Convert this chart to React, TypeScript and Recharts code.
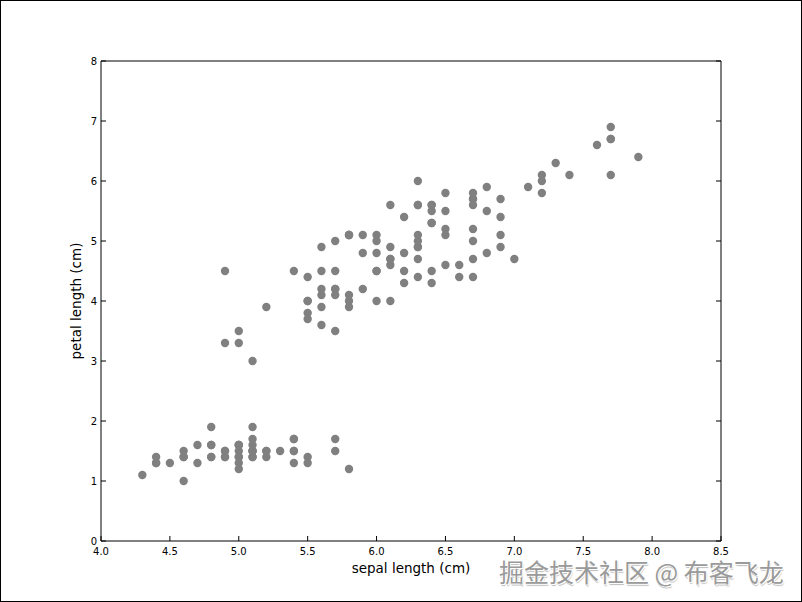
import { Scatter, ScatterChart, XAxis, YAxis } from "recharts";

// iris: sepal length vs petal length (setosa, versicolor, virginica)
const sepalLength = [
  5.1, 4.9, 4.7, 4.6, 5.0, 5.4, 4.6, 5.0, 4.4, 4.9, 5.4, 4.8, 4.8, 4.3, 5.8, 5.7, 5.4, 5.1, 5.7, 5.1,
  5.4, 5.1, 4.6, 5.1, 4.8, 5.0, 5.0, 5.2, 5.2, 4.7, 4.8, 5.4, 5.2, 5.5, 4.9, 5.0, 5.5, 4.9, 4.4, 5.1,
  5.0, 4.5, 4.4, 5.0, 5.1, 4.8, 5.1, 4.6, 5.3, 5.0,
  7.0, 6.4, 6.9, 5.5, 6.5, 5.7, 6.3, 4.9, 6.6, 5.2, 5.0, 5.9, 6.0, 6.1, 5.6, 6.7, 5.6, 5.8, 6.2, 5.6,
  5.9, 6.1, 6.3, 6.1, 6.4, 6.6, 6.8, 6.7, 6.0, 5.7, 5.5, 5.5, 5.8, 6.0, 5.4, 6.0, 6.7, 6.3, 5.6, 5.5,
  5.5, 6.1, 5.8, 5.0, 5.6, 5.7, 5.7, 6.2, 5.1, 5.7,
  6.3, 5.8, 7.1, 6.3, 6.5, 7.6, 4.9, 7.3, 6.7, 7.2, 6.5, 6.4, 6.8, 5.7, 5.8, 6.4, 6.5, 7.7, 7.7, 6.0,
  6.9, 5.6, 7.7, 6.3, 6.7, 7.2, 6.2, 6.1, 6.4, 7.2, 7.4, 7.9, 6.4, 6.3, 6.1, 7.7, 6.3, 6.4, 6.0, 6.9,
  6.7, 6.9, 5.8, 6.8, 6.7, 6.7, 6.3, 6.5, 6.2, 5.9,
];

const petalLength = [
  1.4, 1.4, 1.3, 1.5, 1.4, 1.7, 1.4, 1.5, 1.4, 1.5, 1.5, 1.6, 1.4, 1.1, 1.2, 1.5, 1.3, 1.4, 1.7, 1.5,
  1.7, 1.5, 1.0, 1.7, 1.9, 1.6, 1.6, 1.5, 1.4, 1.6, 1.6, 1.5, 1.5, 1.4, 1.5, 1.2, 1.3, 1.4, 1.3, 1.5,
  1.3, 1.3, 1.3, 1.6, 1.9, 1.4, 1.6, 1.4, 1.5, 1.4,
  4.7, 4.5, 4.9, 4.0, 4.6, 4.5, 4.7, 3.3, 4.6, 3.9, 3.5, 4.2, 4.0, 4.7, 3.6, 4.4, 4.5, 4.1, 4.5, 3.9,
  4.8, 4.0, 4.9, 4.7, 4.3, 4.4, 4.8, 5.0, 4.5, 3.5, 3.8, 3.7, 3.9, 5.1, 4.5, 4.5, 4.7, 4.4, 4.1, 4.0,
  4.4, 4.6, 4.0, 3.3, 4.2, 4.2, 4.2, 4.3, 3.0, 4.1,
  6.0, 5.1, 5.9, 5.6, 5.8, 6.6, 4.5, 6.3, 5.8, 6.1, 5.1, 5.3, 5.5, 5.0, 5.1, 5.3, 5.5, 6.7, 6.9, 5.0,
  5.7, 4.9, 6.7, 4.9, 5.7, 6.0, 4.8, 4.9, 5.6, 5.8, 6.1, 6.4, 5.6, 5.1, 5.6, 6.1, 5.6, 5.5, 4.8, 5.4,
  5.6, 5.1, 5.1, 5.9, 5.7, 5.2, 5.0, 5.2, 5.4, 5.1,
];

const xTicks = [4.0, 4.5, 5.0, 5.5, 6.0, 6.5, 7.0, 7.5, 8.0, 8.5];
const yTicks = [0, 1, 2, 3, 4, 5, 6, 7, 8];

const data = sepalLength.map((x, i) => ({ x, y: petalLength[i] }));

const FONT = "'DejaVu Sans', sans-serif";
const TICK_LEN = 5;

const BottomTick = ({ x, y, payload }: any) => (
  <g>
    <line x1={x} y1={y} x2={x} y2={y - TICK_LEN} stroke="#000" />
    <text x={x} y={y + 14} textAnchor="middle" fontSize={10} fontFamily={FONT} fill="#000">
      {Number(payload.value).toFixed(1)}
    </text>
  </g>
);

const LeftTick = ({ x, y, payload }: any) => (
  <g>
    <line x1={x} y1={y} x2={x + TICK_LEN} y2={y} stroke="#000" />
    <text x={x - 4} y={y} dy="0.36em" textAnchor="end" fontSize={10} fontFamily={FONT} fill="#000">
      {payload.value}
    </text>
  </g>
);

const TopTick = ({ x, y }: any) => (
  <line x1={x} y1={y} x2={x} y2={y + TICK_LEN} stroke="#000" />
);

const RightTick = ({ x, y }: any) => (
  <line x1={x} y1={y} x2={x - TICK_LEN} y2={y} stroke="#000" />
);

const Dot = ({ cx, cy }: any) => <circle cx={cx} cy={cy} r={4.2} fill="#808080" />;

const axisLine = { stroke: "#000", strokeWidth: 1 };

export default function App() {
  return (
    <div
      style={{
        position: "relative",
        width: 802,
        height: 602,
        boxSizing: "border-box",
        border: "1px solid #000",
        background: "#fff",
      }}
    >
      <style>{`body{margin:0}`}</style>
      <ScatterChart
        width={800}
        height={600}
        margin={{ top: 59, right: 79, bottom: 59, left: 99 }}
      >
        <XAxis
          type="number"
          dataKey="x"
          domain={[4, 8.5]}
          ticks={xTicks}
          allowDataOverflow
          height={1}
          tickSize={0}
          tickMargin={0}
          tickLine={false}
          axisLine={axisLine}
          tick={BottomTick}
          label={{
            content: ({ viewBox }: any) => (
              <text
                x={viewBox.x + viewBox.width / 2}
                y={viewBox.y + 32}
                textAnchor="middle"
                fontSize={13.5}
                fontFamily={FONT}
                fill="#000"
              >
                sepal length (cm)
              </text>
            ),
          }}
        />
        <XAxis
          xAxisId="top"
          orientation="top"
          type="number"
          domain={[4, 8.5]}
          ticks={xTicks}
          allowDataOverflow
          height={1}
          tickSize={0}
          tickMargin={0}
          tickLine={false}
          axisLine={axisLine}
          tick={TopTick}
        />
        <YAxis
          type="number"
          dataKey="y"
          domain={[0, 8]}
          ticks={yTicks}
          allowDataOverflow
          width={1}
          tickSize={0}
          tickMargin={0}
          tickLine={false}
          axisLine={axisLine}
          tick={LeftTick}
          label={{
            content: ({ viewBox }: any) => {
              const lx = viewBox.x + viewBox.width - 25;
              const ly = viewBox.y + viewBox.height / 2;
              return (
                <text
                  x={lx}
                  y={ly}
                  transform={`rotate(-90 ${lx} ${ly})`}
                  textAnchor="middle"
                  dy="0.36em"
                  fontSize={13.5}
                  fontFamily={FONT}
                  fill="#000"
                >
                  petal length (cm)
                </text>
              );
            },
          }}
        />
        <YAxis
          yAxisId="right"
          orientation="right"
          type="number"
          domain={[0, 8]}
          ticks={yTicks}
          allowDataOverflow
          width={1}
          tickSize={0}
          tickMargin={0}
          tickLine={false}
          axisLine={axisLine}
          tick={RightTick}
        />
        <Scatter data={data} shape={Dot} isAnimationActive={false} />
      </ScatterChart>
      <div
        style={{
          position: "absolute",
          left: 498,
          top: 558,
          fontSize: 25,
          fontFamily: "'Noto Sans CJK SC', sans-serif",
          color: "#9a9a9a",
          textShadow: "1px 1px 0 #fff, -1px -1px 0 #fff, 1px 2px 1px #bbb",
          whiteSpace: "nowrap",
          lineHeight: "25px",
        }}
      >
        掘金技术社区 @ 布客飞龙
      </div>
    </div>
  );
}
